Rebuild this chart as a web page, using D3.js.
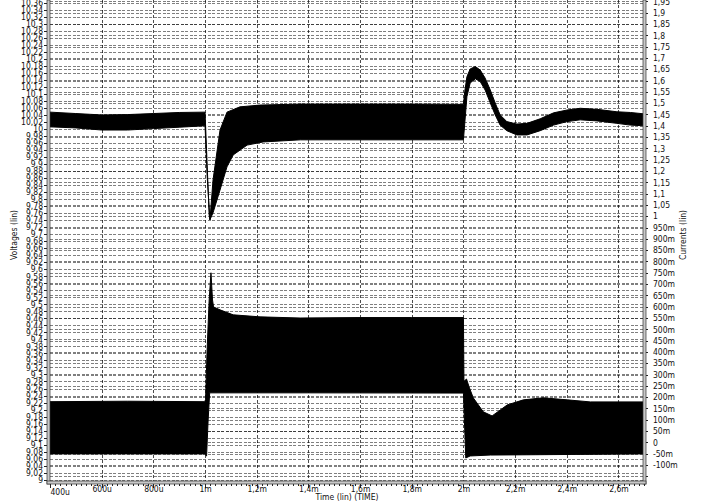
<!DOCTYPE html>
<html>
<head>
  <meta charset="utf-8">
  <title>Voltages / Currents vs Time</title>
  <script src="https://d3js.org/d3.v7.min.js"></script>
  <style>
    body { margin: 0; background: #fff; }
    text { font-family: "Liberation Sans Narrow", "DejaVu Sans Condensed", "Liberation Sans", sans-serif; font-size: 8.5px; fill: #111; }
    .grid line { stroke: #000; stroke-opacity: 0.5; stroke-dasharray: 3,1.5; shape-rendering: crispEdges; }
    .vgrid line { stroke: #000; stroke-opacity: 0.7; stroke-dasharray: 3,2; shape-rendering: crispEdges; }
    .axis line { stroke: #222; shape-rendering: crispEdges; }
    .axis path { display: none; }
  </style>
</head>
<body>
  <svg id="chart" width="703" height="504"></svg>
  <script>
    // time axis (ms) ticks and labels
    var timeTicks = [0.4, 0.6, 0.8, 1.0, 1.2, 1.4, 1.6, 1.8, 2.0, 2.2, 2.4, 2.6];
    var timeLabels = ["400u", "600u", "800u", "1m", "1,2m", "1,4m", "1,6m", "1,8m", "2m", "2,2m", "2,4m", "2,6m"];

    // left axis: 9 .. 10.36 V every 0.02, right axis: -150m .. 1.95 every 50m
    var voltTicks = d3.range(0, 69).map(i => +(9 + i * 0.02).toFixed(2));
    var currTicks = d3.range(-3, 40).map(i => +(i * 0.05).toFixed(2));

    // voltage envelope (time ms, volts) - upper and lower edge of the ripple band
    var voltUpper = [
      [0.40, 10.048], [0.50, 10.044], [0.60, 10.040], [0.70, 10.041], [0.80, 10.044],
      [0.90, 10.047], [1.000, 10.048], [1.016, 9.755], [1.019, 9.741], [1.031, 9.855],
      [1.058, 9.997], [1.085, 10.048], [1.135, 10.063], [1.21, 10.068], [1.37, 10.071],
      [1.60, 10.071], [1.80, 10.071], [2.000, 10.070], [2.005, 10.106], [2.0135, 10.149],
      [2.026, 10.171], [2.046, 10.178], [2.065, 10.168], [2.084, 10.145], [2.104, 10.111],
      [2.123, 10.074], [2.142, 10.040], [2.168, 10.021], [2.207, 10.014], [2.246, 10.016],
      [2.297, 10.029], [2.349, 10.046], [2.401, 10.054], [2.452, 10.059], [2.517, 10.056],
      [2.594, 10.049], [2.646, 10.047], [2.70, 10.043]
    ];
    var voltLower = [
      [0.40, 10.006], [0.50, 10.003], [0.60, 9.997], [0.70, 9.997], [0.80, 10.001],
      [0.90, 10.005], [1.000, 10.009], [1.008, 9.869], [1.019, 9.741], [1.031, 9.761],
      [1.058, 9.826], [1.085, 9.892], [1.109, 9.926], [1.163, 9.954], [1.225, 9.963],
      [1.37, 9.969], [2.000, 9.969], [2.0135, 10.092], [2.026, 10.131], [2.046, 10.143],
      [2.065, 10.135], [2.084, 10.111], [2.104, 10.074], [2.123, 10.040], [2.142, 10.011],
      [2.168, 9.995], [2.207, 9.983], [2.246, 9.983], [2.297, 9.995], [2.349, 10.011],
      [2.401, 10.021], [2.452, 10.026], [2.517, 10.023], [2.594, 10.016], [2.646, 10.011],
      [2.70, 10.009]
    ];

    // current envelope (time ms, amps)
    var currUpper = [
      [0.40, 0.180], [0.70, 0.182], [0.998, 0.180], [1.002, 0.188], [1.008, 0.409],
      [1.016, 0.630], [1.023, 0.750], [1.029, 0.630], [1.033, 0.599], [1.058, 0.586],
      [1.109, 0.564], [1.213, 0.555], [1.368, 0.550], [1.60, 0.552], [1.80, 0.552],
      [2.000, 0.552], [2.002, 0.270], [2.012, 0.280], [2.022, 0.245], [2.038, 0.197],
      [2.077, 0.135], [2.111, 0.117], [2.170, 0.166], [2.232, 0.188], [2.309, 0.197],
      [2.402, 0.188], [2.491, 0.179], [2.70, 0.179]
    ];
    var currLower = [
      [0.40, -0.051], [0.998, -0.051], [1.006, -0.060], [1.012, 0.099], [1.018, 0.219],
      [1.40, 0.219], [2.000, 0.218], [2.009, -0.069], [2.026, -0.060], [2.104, -0.056],
      [2.70, -0.051]
    ];

    var left = 50, right = 643, bottom = 481;

    var x = d3.scaleLinear().domain([0.4, 2.7]).range([left, 644.3]);
    var yV = d3.scaleLinear().domain([9, 10.36]).range([479.7, 2.7]);
    var yI = d3.scaleLinear().domain([-0.1, 1.9]).range([465, 12.7]);

    function fmtV(v) { return String(+v.toFixed(2)).replace(".", ","); }
    function fmtI(v) {
      if (Math.abs(v) < 1 && v !== 0) return Math.round(v * 1000) + "m";
      return String(+v.toFixed(2)).replace(".", ",");
    }

    var svg = d3.select("#chart");

    svg.append("defs").append("clipPath").attr("id", "plot")
      .append("rect").attr("x", left).attr("y", 0).attr("width", right - left).attr("height", bottom);

    // horizontal grids (both axes)
    var grid = svg.append("g").attr("class", "grid");
    grid.selectAll("line.v").data(voltTicks).enter().append("line")
      .attr("x1", left).attr("x2", right)
      .attr("y1", d => Math.round(yV(d)) + 0.5).attr("y2", d => Math.round(yV(d)) + 0.5);
    grid.selectAll("line.i").data(currTicks).enter().append("line")
      .attr("x1", left).attr("x2", right)
      .attr("y1", d => Math.round(yI(d)) + 0.5).attr("y2", d => Math.round(yI(d)) + 0.5);

    // vertical grid
    svg.append("g").attr("class", "vgrid").selectAll("line")
      .data(timeTicks.slice(1)).enter().append("line")
      .attr("x1", d => Math.round(x(d)) + 0.5).attr("x2", d => Math.round(x(d)) + 0.5)
      .attr("y1", 0).attr("y2", bottom);

    // waveforms drawn as filled ripple bands
    var line = d3.line().x(d => x(d[0]));
    function band(upper, lower, ys) {
      var pts = upper.concat(lower.slice().reverse());
      return line.y(d => ys(d[1]))(pts) + "Z";
    }
    var wave = svg.append("g").attr("clip-path", "url(#plot)");
    wave.append("path").attr("d", band(voltUpper, voltLower, yV))
      .attr("fill", "#000").attr("stroke", "#000").attr("stroke-width", 1);
    wave.append("path").attr("d", band(currUpper, currLower, yI))
      .attr("fill", "#000").attr("stroke", "#000").attr("stroke-width", 1);

    // left axis
    svg.append("g").attr("class", "axis").attr("transform", "translate(47,0)")
      .call(d3.axisLeft(yV).tickValues(voltTicks).tickSize(3).tickPadding(1).tickFormat(fmtV));
    // right axis
    svg.append("g").attr("class", "axis").attr("transform", "translate(646,0)")
      .call(d3.axisRight(yI).tickValues(currTicks).tickSize(2).tickPadding(5)
        .tickFormat(d => d < -0.12 ? "" : fmtI(d)));
    // bottom axis: minor ticks then major
    svg.append("g").attr("class", "axis").attr("transform", "translate(0,484)")
      .call(d3.axisBottom(x).tickValues(d3.range(0, 116).map(i => 0.4 + i * 0.02)).tickSize(2).tickFormat(""));
    var gb = svg.append("g").attr("class", "axis").attr("transform", "translate(0,484)")
      .call(d3.axisBottom(x).tickValues(timeTicks).tickSize(4).tickFormat((d, i) => timeLabels[i]));
    gb.selectAll("text").attr("y", 1.5).attr("dy", "0.71em");
    gb.selectAll(".tick").filter((d, i) => i === 0).select("text")
      .attr("text-anchor", "start").attr("y", 5);

    // double frame lines
    svg.append("rect").attr("x", 47).attr("y", 0).attr("width", 3).attr("height", 484)
      .attr("fill", "#c8c8c8").attr("stroke", "#333").attr("stroke-width", 0.7);
    svg.append("rect").attr("x", 643).attr("y", 0).attr("width", 3).attr("height", 484)
      .attr("fill", "#c8c8c8").attr("stroke", "#333").attr("stroke-width", 0.7);
    svg.append("rect").attr("x", 47).attr("y", 481).attr("width", 599).attr("height", 3)
      .attr("fill", "#c8c8c8").attr("stroke", "#333").attr("stroke-width", 0.7);

    // axis titles
    svg.append("text").attr("transform", "translate(17,235) rotate(-90)")
      .attr("text-anchor", "middle").text("Voltages (lin)");
    svg.append("text").attr("transform", "translate(686,235) rotate(-90)")
      .attr("text-anchor", "middle").text("Currents (lin)");
    svg.append("text").attr("x", 347).attr("y", 500)
      .attr("text-anchor", "middle").text("Time (lin) (TIME)");
  </script>
</body>
</html>
